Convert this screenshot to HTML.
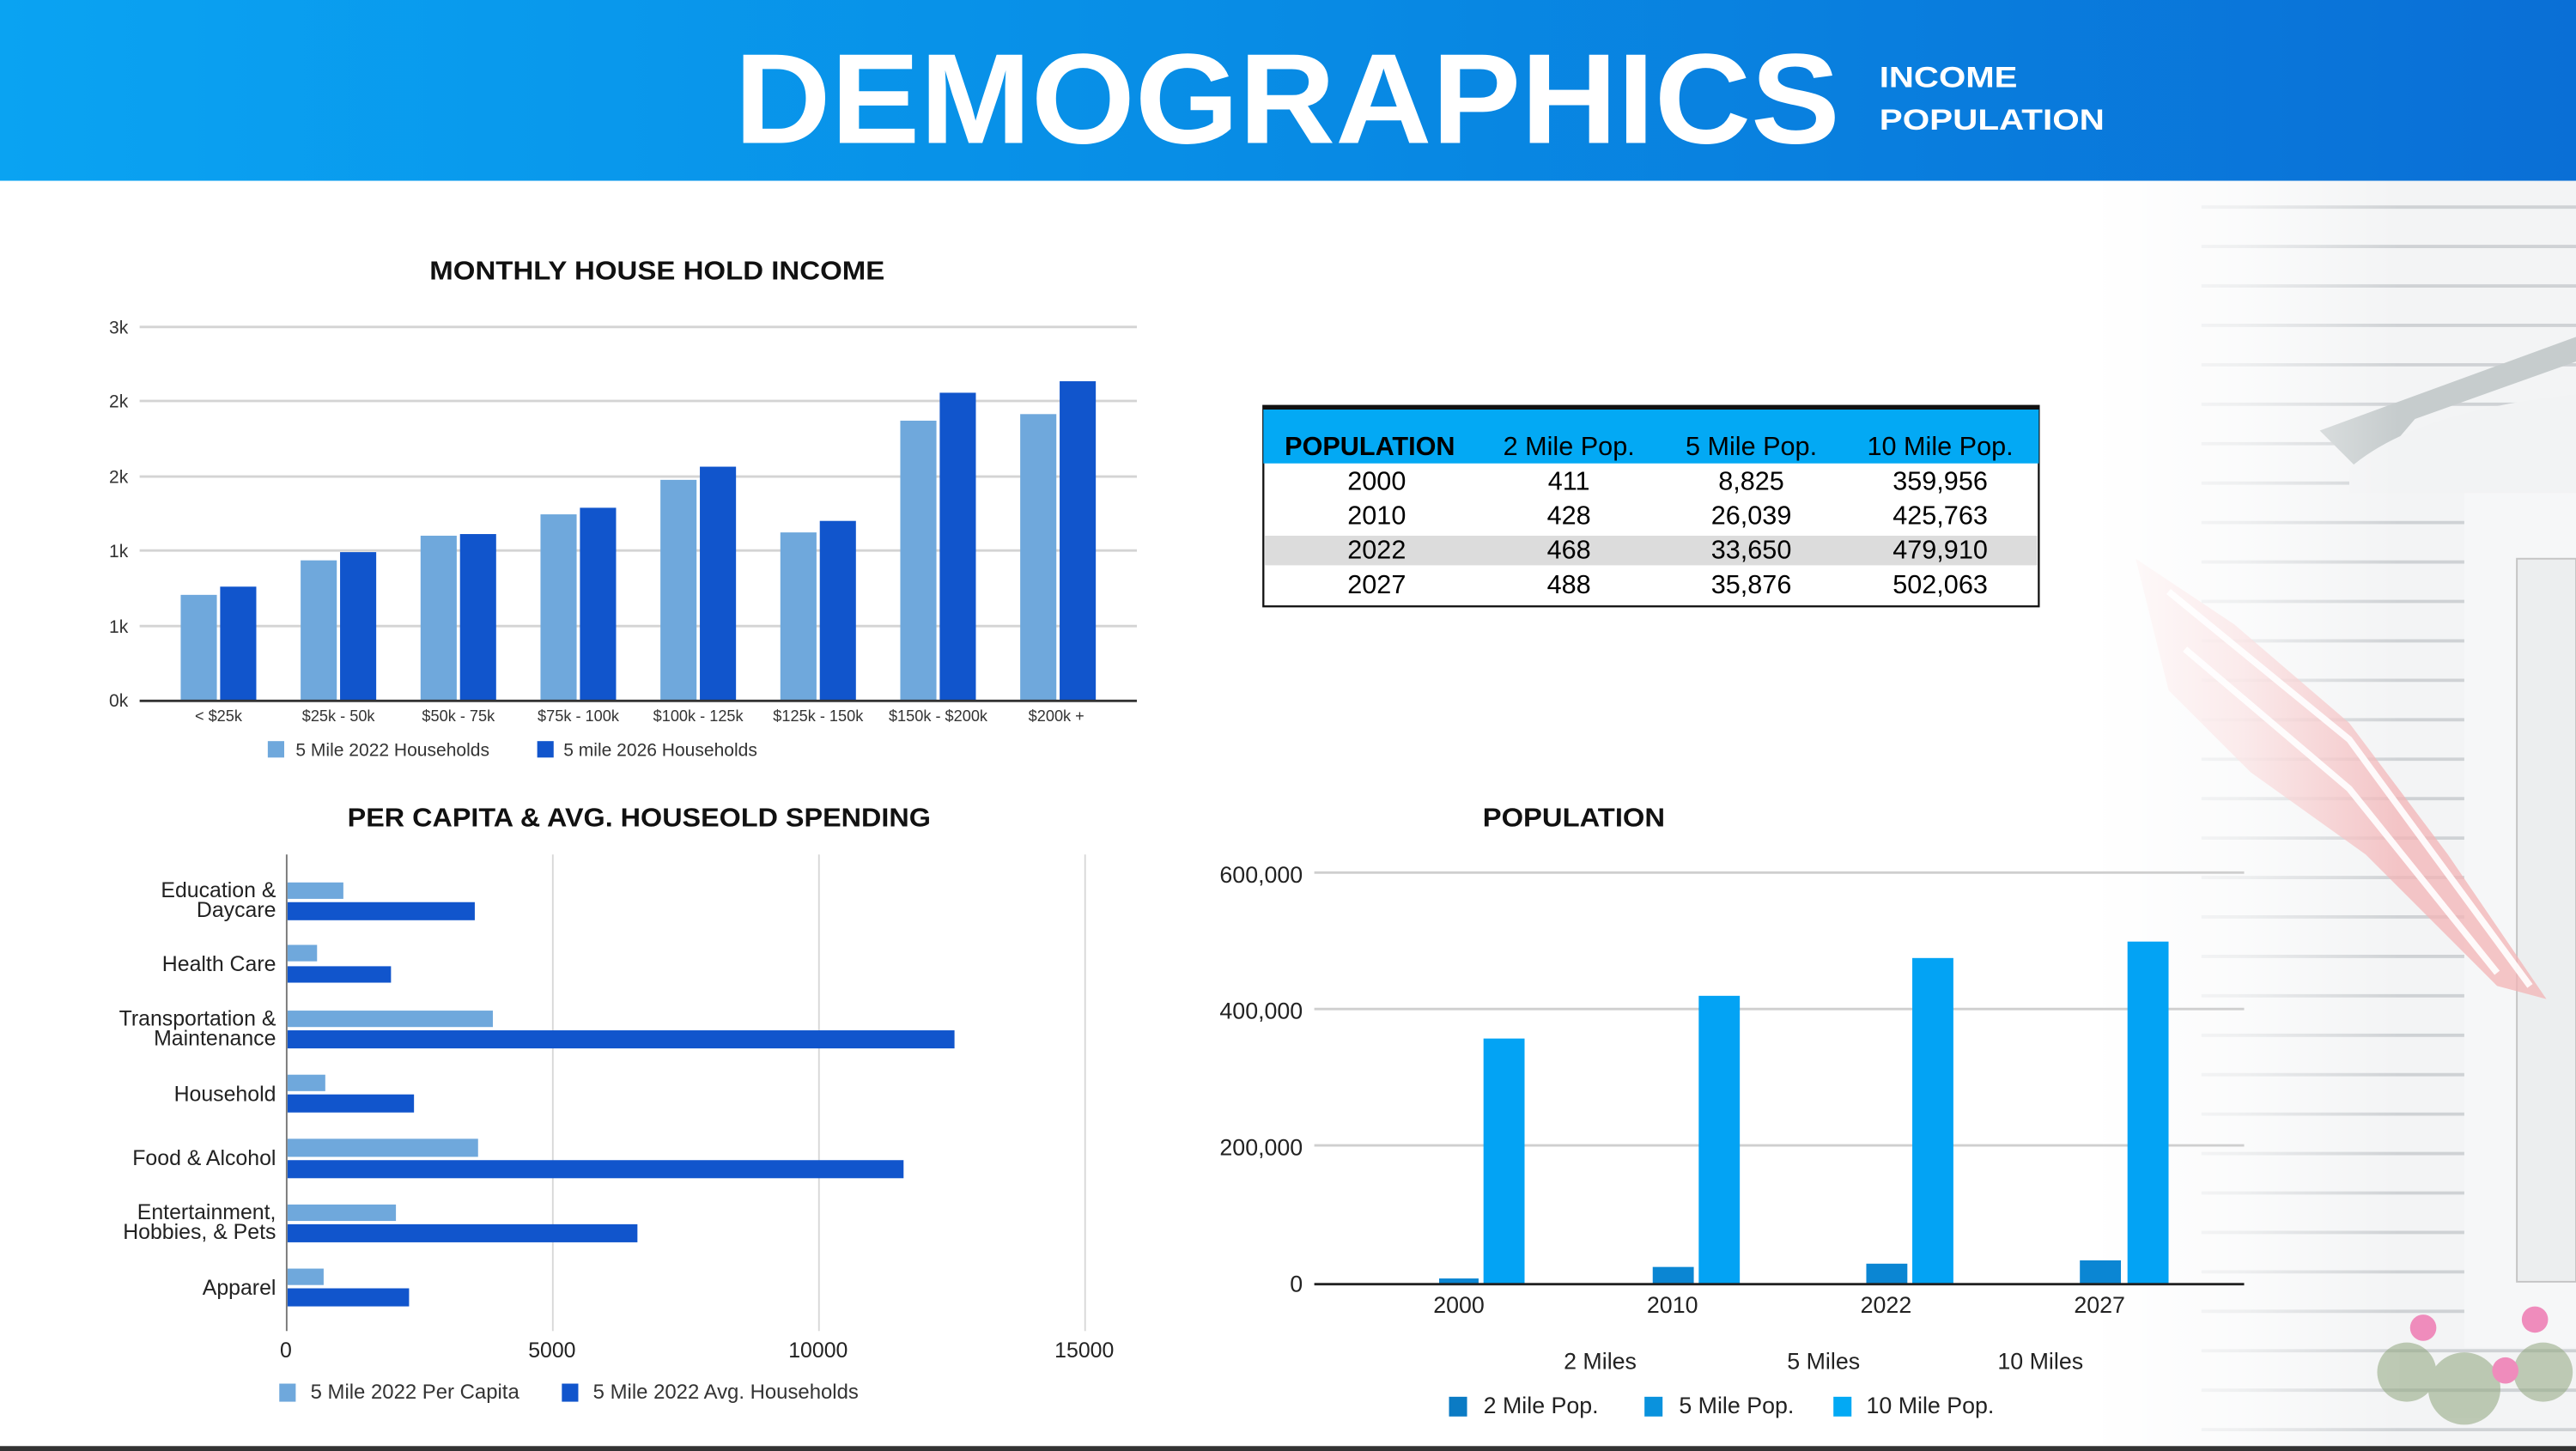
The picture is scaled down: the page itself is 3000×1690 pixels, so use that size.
<!DOCTYPE html>
<html><head><meta charset="utf-8"><style>
html,body{margin:0;padding:0;background:#fff}
svg{display:block}
text{font-family:"Liberation Sans",sans-serif}
</style></head><body>
<svg width="3000" height="1690" viewBox="0 0 1568 883" preserveAspectRatio="none" xmlns="http://www.w3.org/2000/svg">
<defs>
<linearGradient id="hdr" x1="0" x2="1" y1="0" y2="0">
<stop offset="0" stop-color="#0aa3f2"/><stop offset="0.45" stop-color="#088ee6"/><stop offset="1" stop-color="#0a6fd6"/></linearGradient>
<linearGradient id="fade" x1="0" x2="1" y1="0" y2="0">
<stop offset="0" stop-color="#fff" stop-opacity="1"/><stop offset="0.5" stop-color="#fff" stop-opacity="0.65"/><stop offset="1" stop-color="#fff" stop-opacity="0"/></linearGradient>
</defs>
<rect width="1568" height="883" fill="#fff"/>
<!-- house background -->
<rect x="1280" y="110" width="288" height="773" fill="#f3f4f5"/>
<g stroke="#cfd2d5" stroke-width="2">
<path d="M1340 126H1568M1340 150H1568M1340 174H1568M1340 198H1568M1340 222H1568M1340 246H1568M1340 270H1568M1340 294H1568M1340 318H1568M1340 342H1568M1340 366H1568M1340 390H1568M1340 414H1568M1340 438H1568M1340 462H1568M1340 486H1568M1340 510H1568M1340 534H1568M1340 558H1568M1340 582H1568M1340 606H1568M1340 630H1568M1340 654H1568M1340 678H1568M1340 702H1568M1340 726H1568M1340 750H1568M1340 774H1568M1340 798H1568M1340 822H1568M1340 846H1568M1340 870H1568"/>
</g>
<path d="M1412 262 L1568 205 L1568 220 L1470 255 L1440 290 Z" fill="#c6cccd"/>
<path d="M1430 285 Q1470 250 1568 240 L1568 300 L1430 300 Z" fill="#f2f3f4"/>
<rect x="1500" y="300" width="68" height="520" fill="#f6f7f8"/>
<rect x="1532" y="340" width="36" height="440" fill="#eceeef" stroke="#c4c4c4"/>
<path d="M1300 340 L1360 380 L1430 440 L1490 520 L1550 608 L1520 600 L1440 520 L1370 470 L1320 420 Z" fill="#f3b4b6" opacity="0.75"/>
<path d="M1320 360 L1430 450 L1540 600" stroke="#fff" stroke-width="4" fill="none" opacity="0.9"/>
<path d="M1330 395 L1430 480 L1520 592" stroke="#fff" stroke-width="4" fill="none" opacity="0.9"/>
<rect x="1270" y="110" width="190" height="773" fill="url(#fade)"/>
<g fill="#8fa57d" opacity="0.55"><circle cx="1465" cy="835" r="18"/><circle cx="1500" cy="845" r="22"/><circle cx="1548" cy="835" r="18"/></g>
<g fill="#ef8cbc"><circle cx="1475" cy="808" r="8"/><circle cx="1543" cy="803" r="8"/><circle cx="1525" cy="834" r="8"/></g>
<!-- header -->
<rect width="1568" height="110" fill="url(#hdr)"/>
<text x="447" y="87" font-size="78" font-weight="bold" fill="#fff" textLength="673" lengthAdjust="spacingAndGlyphs">DEMOGRAPHICS</text>
<text x="1144" y="53" font-size="18" font-weight="bold" fill="#fff" textLength="84" lengthAdjust="spacingAndGlyphs">INCOME</text>
<text x="1144" y="79" font-size="18" font-weight="bold" fill="#fff" textLength="137" lengthAdjust="spacingAndGlyphs">POPULATION</text>

<!-- chart 1 -->
<text x="400" y="170" font-size="16" font-weight="bold" text-anchor="middle" fill="#111" textLength="277" lengthAdjust="spacingAndGlyphs">MONTHLY HOUSE HOLD INCOME</text>
<g stroke="#d4d4d4" stroke-width="1.5"><path d="M85 199H692M85 244H692M85 290H692M85 335H692M85 381H692"/></g>
<g font-size="11" fill="#333" text-anchor="end"><text x="78" y="203">3k</text><text x="78" y="248">2k</text><text x="78" y="294">2k</text><text x="78" y="339">1k</text><text x="78" y="385">1k</text><text x="78" y="430">0k</text></g>
<g fill="#6fa8dc">
<rect x="110" y="362" width="22" height="64"/><rect x="183" y="341" width="22" height="85"/><rect x="256" y="326" width="22" height="100"/><rect x="329" y="313" width="22" height="113"/><rect x="402" y="292" width="22" height="134"/><rect x="475" y="324" width="22" height="102"/><rect x="548" y="256" width="22" height="170"/><rect x="621" y="252" width="22" height="174"/></g>
<g fill="#1155cc">
<rect x="134" y="357" width="22" height="69"/><rect x="207" y="336" width="22" height="90"/><rect x="280" y="325" width="22" height="101"/><rect x="353" y="309" width="22" height="117"/><rect x="426" y="284" width="22" height="142"/><rect x="499" y="317" width="22" height="109"/><rect x="572" y="239" width="22" height="187"/><rect x="645" y="232" width="22" height="194"/></g>
<path d="M85 426.5H692" stroke="#333" stroke-width="1.5"/>
<g font-size="9.5" fill="#333" text-anchor="middle"><text x="133" y="439">&lt; $25k</text><text x="206" y="439">$25k - 50k</text><text x="279" y="439">$50k - 75k</text><text x="352" y="439">$75k - 100k</text><text x="425" y="439">$100k - 125k</text><text x="498" y="439">$125k - 150k</text><text x="571" y="439">$150k - $200k</text><text x="643" y="439">$200k  +</text></g>
<rect x="163" y="451" width="10" height="10" fill="#6fa8dc"/><text x="180" y="460" font-size="11" fill="#333">5 Mile 2022 Households</text>
<rect x="327" y="451" width="10" height="10" fill="#1155cc"/><text x="343" y="460" font-size="11" fill="#333">5 mile 2026 Households</text>

<!-- table -->
<rect x="769" y="247" width="472" height="122" fill="#fff" stroke="#111" stroke-width="1.2"/>
<rect x="769" y="249" width="472" height="33" fill="#03a9f4"/>
<path d="M769 248H1241" stroke="#111" stroke-width="2.5"/>
<rect x="770" y="326" width="470" height="18" fill="#dcdcdc"/>
<text x="782" y="277" font-size="16" font-weight="bold" fill="#000">POPULATION</text>
<g font-size="16" fill="#000" text-anchor="middle">
<text x="955" y="277">2 Mile Pop.</text><text x="1066" y="277">5 Mile Pop.</text><text x="1181" y="277">10 Mile Pop.</text>
<text x="838" y="298">2000</text><text x="955" y="298">411</text><text x="1066" y="298">8,825</text><text x="1181" y="298">359,956</text>
<text x="838" y="319">2010</text><text x="955" y="319">428</text><text x="1066" y="319">26,039</text><text x="1181" y="319">425,763</text>
<text x="838" y="340">2022</text><text x="955" y="340">468</text><text x="1066" y="340">33,650</text><text x="1181" y="340">479,910</text>
<text x="838" y="361">2027</text><text x="955" y="361">488</text><text x="1066" y="361">35,876</text><text x="1181" y="361">502,063</text></g>

<!-- chart 3 -->
<text x="389" y="503" font-size="16" font-weight="bold" text-anchor="middle" fill="#111" textLength="355" lengthAdjust="spacingAndGlyphs">PER CAPITA &amp; AVG. HOUSEOLD SPENDING</text>
<g stroke="#d8d8d8" stroke-width="1"><path d="M336.5 520V810M498.5 520V810M660.5 520V810"/></g>
<g fill="#6fa8dc">
<rect x="175" y="537" width="34" height="10"/><rect x="175" y="575" width="18" height="10"/><rect x="175" y="615" width="125" height="10"/><rect x="175" y="654" width="23" height="10"/><rect x="175" y="693" width="116" height="11"/><rect x="175" y="733" width="66" height="10"/><rect x="175" y="772" width="22" height="10"/></g>
<g fill="#1155cc">
<rect x="175" y="549" width="114" height="11"/><rect x="175" y="588" width="63" height="10"/><rect x="175" y="627" width="406" height="11"/><rect x="175" y="666" width="77" height="11"/><rect x="175" y="706" width="375" height="11"/><rect x="175" y="745" width="213" height="11"/><rect x="175" y="784" width="74" height="11"/></g>
<path d="M174.5 520V810" stroke="#777" stroke-width="1"/>
<g font-size="13" fill="#222" text-anchor="end">
<text x="168" y="546">Education &amp;</text><text x="168" y="558">Daycare</text>
<text x="168" y="591">Health Care</text>
<text x="168" y="624">Transportation &amp;</text><text x="168" y="636">Maintenance</text>
<text x="168" y="670">Household</text>
<text x="168" y="709">Food &amp; Alcohol</text>
<text x="168" y="742">Entertainment,</text><text x="168" y="754">Hobbies, &amp; Pets</text>
<text x="168" y="788">Apparel</text></g>
<g font-size="13" fill="#222" text-anchor="middle"><text x="174" y="826">0</text><text x="336" y="826">5000</text><text x="498" y="826">10000</text><text x="660" y="826">15000</text></g>
<rect x="170" y="842" width="10" height="11" fill="#6fa8dc"/><text x="189" y="851" font-size="12.5" fill="#333">5 Mile 2022 Per Capita</text>
<rect x="342" y="842" width="10" height="11" fill="#1155cc"/><text x="361" y="851" font-size="12.5" fill="#333">5 Mile 2022 Avg. Households</text>

<!-- chart 4 -->
<text x="958" y="503" font-size="16" font-weight="bold" text-anchor="middle" fill="#111" textLength="111" lengthAdjust="spacingAndGlyphs">POPULATION</text>
<g stroke="#cfcfcf" stroke-width="1.5"><path d="M800 531H1366M800 614H1366M800 697H1366"/></g>
<g font-size="14" fill="#222" text-anchor="end"><text x="793" y="537">600,000</text><text x="793" y="620">400,000</text><text x="793" y="703">200,000</text><text x="793" y="786">0</text></g>
<g fill="#0b86d3">
<rect x="876" y="778" width="24" height="3"/><rect x="1006" y="771" width="25" height="10"/><rect x="1136" y="769" width="25" height="12"/><rect x="1266" y="767" width="25" height="14"/></g>
<g fill="#03a3f4">
<rect x="903" y="632" width="25" height="149"/><rect x="1034" y="606" width="25" height="175"/><rect x="1164" y="583" width="25" height="198"/><rect x="1295" y="573" width="25" height="208"/></g>
<path d="M800 781.5H1366" stroke="#222" stroke-width="1.5"/>
<g font-size="14" fill="#222" text-anchor="middle"><text x="888" y="799">2000</text><text x="1018" y="799">2010</text><text x="1148" y="799">2022</text><text x="1278" y="799">2027</text>
<text x="974" y="833">2 Miles</text><text x="1110" y="833">5 Miles</text><text x="1242" y="833">10 Miles</text></g>
<rect x="882" y="850" width="11" height="12" fill="#0b7bc4"/><text x="903" y="860" font-size="14" fill="#222">2 Mile Pop.</text>
<rect x="1001" y="850" width="11" height="12" fill="#0a92dd"/><text x="1022" y="860" font-size="14" fill="#222">5 Mile Pop.</text>
<rect x="1116" y="850" width="11" height="12" fill="#03a9f4"/><text x="1136" y="860" font-size="14" fill="#222">10 Mile Pop.</text>
<rect x="0" y="880" width="1568" height="3" fill="#333"/>
</svg>
</body></html>
